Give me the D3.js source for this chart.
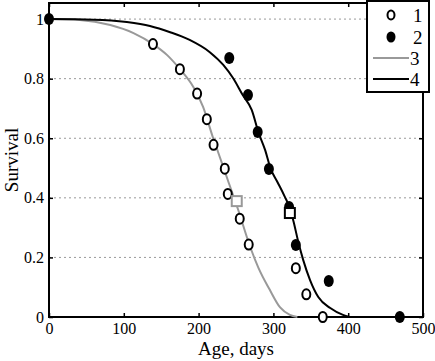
<!DOCTYPE html>
<html><head><meta charset="utf-8">
<script src="https://cdn.jsdelivr.net/npm/d3@7"></script>
<style>body{margin:0;background:#fff}svg{display:block}text{font-family:"Liberation Serif","Times New Roman",serif;fill:#000}</style>
</head><body>
<script>
// Series 1: open circles (age, survival)
const s1Age = [139, 175, 198, 211, 220, 235, 239, 255, 267, 330, 344, 366];
const s1Surv = [0.916, 0.832, 0.750, 0.664, 0.578, 0.498, 0.413, 0.330, 0.243, 0.164, 0.076, 0];
// Series 2: filled circles
const s2Age = [0, 241, 266, 279, 294, 321, 330, 374, 469];
const s2Surv = [1.0, 0.869, 0.745, 0.621, 0.497, 0.369, 0.242, 0.121, 0];
// Series 3: grey curve
const s3Age = [0, 41, 82, 113, 139, 158, 175, 193, 206, 219, 226, 239, 253, 269, 280, 295, 309, 322, 332];
const s3Surv = [1.0, 0.997, 0.98, 0.953, 0.916, 0.879, 0.832, 0.772, 0.705, 0.604, 0.554, 0.46, 0.359, 0.235, 0.165, 0.092, 0.032, 0.007, 0];
// Series 4: black curve
const s4Age = [0, 60, 104, 135, 162, 188, 215, 233, 246, 259, 271, 280, 289, 296, 305, 315, 322, 327, 333, 340, 349, 360, 376, 393, 402];
const s4Surv = [1.0, 0.998, 0.99, 0.977, 0.956, 0.93, 0.889, 0.846, 0.802, 0.745, 0.695, 0.62, 0.56, 0.5, 0.455, 0.405, 0.365, 0.32, 0.255, 0.19, 0.124, 0.067, 0.03, 0.007, 0];
// Median markers (squares)
const medAge = [251, 322];
const medSurv = [0.389, 0.349];
const medColor = ["#999", "#000"];
const xTicks = [0, 100, 200, 300, 400, 500];
const yTicks = [0, 0.2, 0.4, 0.6, 0.8, 1];
const yTickLabels = ["0", "0.2", "0.4", "0.6", "0.8", "1"];
const legendLabels = ["1", "2", "3", "4"];

const FONT = '"Liberation Serif","Times New Roman",serif';
const W = 435, H = 361;
const L = 49, R = 423, T = 3, B = 317;
const svg = d3.select("body").append("svg").attr("width", W).attr("height", H);
const x = d3.scaleLinear().domain([0, 500]).range([L, R]);
const y = d3.scaleLinear().domain([0, 1.054]).range([B, T]);

// grid
svg.append("g").selectAll("line").data(yTicks.filter(d => d > 0)).join("line")
  .attr("x1", L).attr("x2", R).attr("y1", d => y(d)).attr("y2", d => y(d))
  .attr("stroke", "#999").attr("stroke-width", 1).attr("stroke-dasharray", "2,3");

// axes
const tickLen = 4;
const bAxis = svg.append("g").attr("transform", `translate(0,${B})`)
  .call(d3.axisBottom(x).tickValues(xTicks).tickSize(-tickLen).tickPadding(6).tickFormat(d3.format("d")));
const tAxis = svg.append("g").attr("transform", `translate(0,${T})`)
  .call(d3.axisTop(x).tickValues(xTicks).tickSize(-tickLen).tickFormat(""));
const lAxis = svg.append("g").attr("transform", `translate(${L},0)`)
  .call(d3.axisLeft(y).tickValues(yTicks).tickSize(-tickLen).tickPadding(5).tickFormat((d, i) => yTickLabels[i]));
const rAxis = svg.append("g").attr("transform", `translate(${R},0)`)
  .call(d3.axisRight(y).tickValues(yTicks).tickSize(-tickLen).tickFormat(""));
[bAxis, tAxis, lAxis, rAxis].forEach(g => {
  g.attr("font-family", FONT).attr("font-size", 16);
  g.select(".domain").remove();
  g.selectAll(".tick line").attr("stroke", "#000").attr("stroke-width", 1.5);
  g.selectAll("text").style("font-family", FONT).style("font-size", "16px").style("fill", "#000");
});
bAxis.selectAll(".tick text").attr("dy", "0.71em");
svg.append("rect").attr("x", L).attr("y", T).attr("width", R - L).attr("height", B - T)
  .attr("fill", "none").attr("stroke", "#000").attr("stroke-width", 2);

// curves
const line = d3.line().x(d => x(d[0])).y(d => y(d[1])).curve(d3.curveMonotoneX);
svg.append("path").datum(s3Age.map((a, i) => [a, s3Surv[i]])).attr("d", line)
  .attr("fill", "none").attr("stroke", "#999").attr("stroke-width", 2);
svg.append("path").datum(s4Age.map((a, i) => [a, s4Surv[i]])).attr("d", line)
  .attr("fill", "none").attr("stroke", "#000").attr("stroke-width", 2);

// points
svg.append("g").selectAll("ellipse").data(s1Age.map((a, i) => [a, s1Surv[i]])).join("ellipse")
  .attr("cx", d => x(d[0])).attr("cy", d => y(d[1])).attr("rx", 4).attr("ry", 5)
  .attr("fill", "#fff").attr("stroke", "#000").attr("stroke-width", 2);
svg.append("g").selectAll("ellipse").data(s2Age.map((a, i) => [a, s2Surv[i]])).join("ellipse")
  .attr("cx", d => x(d[0])).attr("cy", d => y(d[1])).attr("rx", 5).attr("ry", 6)
  .attr("fill", "#000");
svg.append("g").selectAll("rect").data(medAge.map((a, i) => [a, medSurv[i], medColor[i]])).join("rect")
  .attr("x", d => x(d[0]) - 5).attr("y", d => y(d[1]) - 5).attr("width", 10).attr("height", 10)
  .attr("fill", "#fff").attr("stroke", d => d[2]).attr("stroke-width", 2);

// axis labels
svg.append("text").attr("x", 236).attr("y", 355).attr("text-anchor", "middle")
  .style("font-size", "19px").text("Age, days");
svg.append("text").attr("transform", "translate(18,160) rotate(-90)").attr("text-anchor", "middle")
  .style("font-size", "19px").text("Survival");

// legend
const lg = svg.append("g");
lg.append("rect").attr("x", 367).attr("y", 1).attr("width", 62).attr("height", 91)
  .attr("fill", "#fff").attr("stroke", "#000").attr("stroke-width", 2);
const rowY = [15, 37, 58, 79];
lg.append("ellipse").attr("cx", 391).attr("cy", rowY[0]).attr("rx", 3.5).attr("ry", 4.5)
  .attr("fill", "#fff").attr("stroke", "#000").attr("stroke-width", 2);
lg.append("ellipse").attr("cx", 391).attr("cy", rowY[1]).attr("rx", 4.5).attr("ry", 5.5).attr("fill", "#000");
lg.append("line").attr("x1", 373).attr("x2", 409).attr("y1", rowY[2]).attr("y2", rowY[2])
  .attr("stroke", "#999").attr("stroke-width", 2);
lg.append("line").attr("x1", 373).attr("x2", 409).attr("y1", rowY[3]).attr("y2", rowY[3])
  .attr("stroke", "#000").attr("stroke-width", 2);
lg.selectAll("text.lab").data(legendLabels).join("text").attr("class", "lab")
  .attr("x", (d, i) => i < 2 ? 413 : 410).attr("y", (d, i) => rowY[i]).attr("dy", "0.35em")
  .style("font-size", "19px").text(d => d);
</script>
</body></html>
